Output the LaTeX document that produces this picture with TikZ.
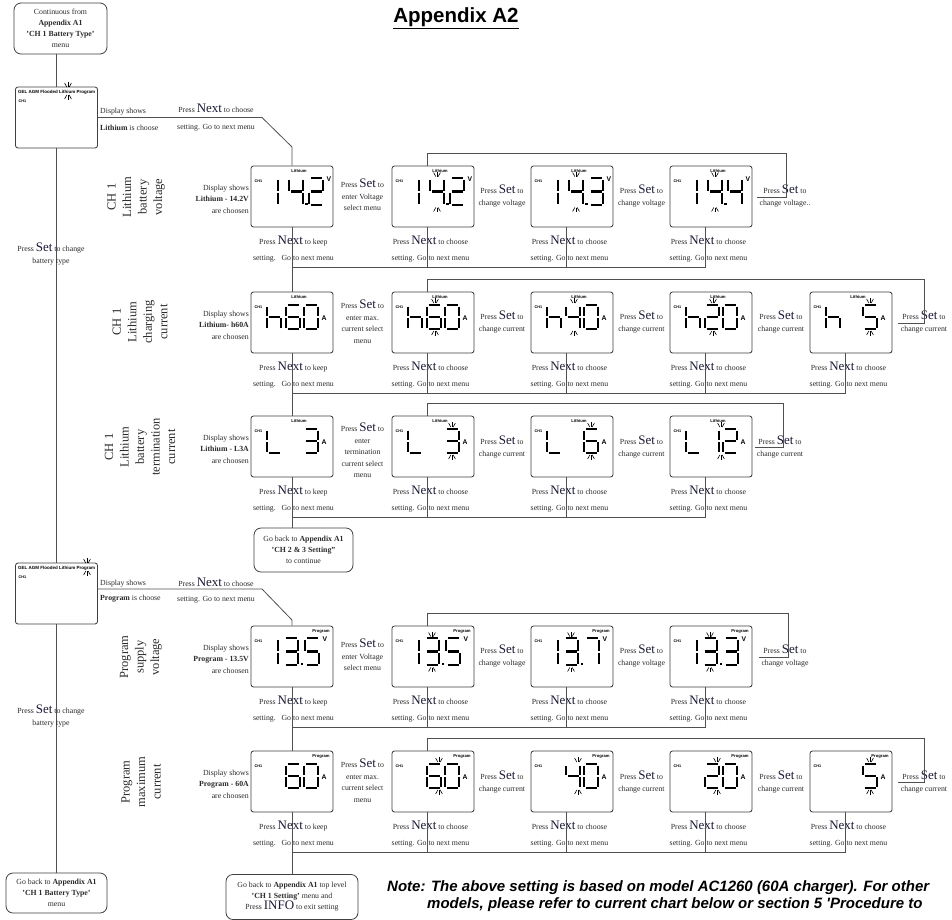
\documentclass[tikz,border=0pt]{standalone}
\usepackage{fontspec}
\setmainfont{Liberation Serif}
\newfontfamily\sansf{Liberation Sans}
\usetikzlibrary{calc}
\definecolor{lnc}{HTML}{505050}
\definecolor{boxc}{HTML}{404040}
\definecolor{txtc}{HTML}{2b2b2b}
\definecolor{kwc}{HTML}{1c1c38}
\newcommand\kw[1]{{\fontsize{13}{11.5}\selectfont\color{kwc}#1}}
\makeatletter
\newcommand\lcddig[5]{%
  \in@{a}{#5}\ifin@\draw[seg] ({#1+1.5},{#2}) -- ({#1+#3-1.5},{#2});\fi
  \in@{b}{#5}\ifin@\draw[seg] ({#1+#3},{#2+1.5}) -- ({#1+#3},{#2+#4/2-1});\fi
  \in@{c}{#5}\ifin@\draw[seg] ({#1+#3},{#2+#4/2+1}) -- ({#1+#3},{#2+#4-1.5});\fi
  \in@{d}{#5}\ifin@\draw[seg] ({#1+1.5},{#2+#4}) -- ({#1+#3-1.5},{#2+#4});\fi
  \in@{e}{#5}\ifin@\draw[seg] ({#1},{#2+#4/2+1}) -- ({#1},{#2+#4-1.5});\fi
  \in@{f}{#5}\ifin@\draw[seg] ({#1},{#2+1.5}) -- ({#1},{#2+#4/2-1});\fi
  \in@{g}{#5}\ifin@\draw[seg] ({#1+1.5},{#2+#4/2}) -- ({#1+#3-1.5},{#2+#4/2});\fi
}
\makeatother
\newcommand\blinkup[2]{%
  \draw[blk] ({#1-3.4},{#2-4}) -- ({#1-1.2},{#2});
  \draw[blk] ({#1},{#2-4.8}) -- ({#1},{#2});
  \draw[blk] ({#1+3.4},{#2-4}) -- ({#1+1.2},{#2});}
\newcommand\blinkdn[2]{%
  \draw[blk] ({#1-1.2},{#2}) -- ({#1-3.4},{#2+4});
  \draw[blk] ({#1},{#2}) -- ({#1},{#2+4.8});
  \draw[blk] ({#1+1.2},{#2}) -- ({#1+3.4},{#2+4});}
% voltage display: name, L, T, type (0 Lithium / 1 Program), last digit, blink
\newcommand\lcdV[6]{%
  \node[lcd] (#1) at ({#2+41},{#3+30.5}) {};
  \node[chl] (#1-ch) at ({#2+3.5},{#3+15}) {CH1};
  \ifnum#4=0
    \node[topl] (#1-lab) at ({#2+48},{#3+5}) {Lithium};
    \lcddig{#2+13}{#3+12}{14}{27}{bc}%
    \lcddig{#2+38}{#3+12}{14}{27}{fgbc}%
    \fill[black] ({#2+54},{#3+36.8}) rectangle ++(2.6,2.6);
    \lcddig{#2+58}{#3+12}{14}{27}{#5}%
    \node[unitl] (#1-u) at ({#2+78},{#3+13}) {V};
    \ifnum#6=1 \blinkup{#2+45}{#3+10.5}\blinkdn{#2+45}{#3+41.5}\fi
  \else
    \node[topl] (#1-lab) at ({#2+70},{#3+5}) {Program};
    \lcddig{#2+13}{#3+12}{14}{27}{bc}%
    \lcddig{#2+33}{#3+12}{14}{27}{abgcd}%
    \fill[black] ({#2+49.5},{#3+36.8}) rectangle ++(2.6,2.6);
    \lcddig{#2+54}{#3+12}{14}{27}{#5}%
    \node[unitl] (#1-u) at ({#2+74},{#3+13}) {V};
    \ifnum#6=1 \blinkup{#2+40}{#3+10.5}\blinkdn{#2+40}{#3+41.5}\fi
  \fi}
% current display: name, L, T, type, d1, d2, d3, blink x offset (0 = none)
\newcommand\lcdI[8]{%
  \node[lcd] (#1) at ({#2+41},{#3+30.5}) {};
  \node[chl] (#1-ch) at ({#2+3.5},{#3+15}) {CH1};
  \ifnum#4=0 \node[topl] (#1-lab) at ({#2+48},{#3+5}) {Lithium};%
  \else \node[topl] (#1-lab) at ({#2+70},{#3+5}) {Program};\fi
  \lcddig{#2+16}{#3+13}{14}{24}{#5}%
  \lcddig{#2+35}{#3+13}{14}{24}{#6}%
  \lcddig{#2+53}{#3+13}{14}{24}{#7}%
  \node[unitl] (#1-u) at ({#2+73},{#3+26}) {A};
  \ifnum#8>0 \blinkup{#2+#8}{#3+11}\blinkdn{#2+#8}{#3+39}\fi}
\newcommand\seldisp[3]{% name, T, blink x
  \node[lcd] (#1) at (56.5,{#2+30.5}) {};
  \node[gel] (#1-t) at (18,{#2+5}) {GEL AGM Flooded Lithium Program};
  \node[chl] (#1-ch) at (18.5,{#2+14}) {CH1};
  \blinkup{#3}{#2}\blinkdn{#3}{#2+8}}
\newcommand\desc[3]{\node[sm, anchor=east, align=right] (#1) at (249,#2) {Display shows\\\textbf{#3}\\are choosen};}
\newcommand\settxt[4]{\node[sm] (#1) at (#2,#3) {Press \kw{Set} to\\#4};}
\newcommand\nexttxt[5]{\node[sm] (#1) at (#2,#3) {Press \kw{Next} to #4\\[4.5pt]#5};}

\begin{document}
\begin{tikzpicture}[x=1pt,y=-1pt,
  ln/.style={draw=lnc, line width=0.8pt},
  lcd/.style={draw=boxc, line width=0.85pt, rounded corners=2.5pt, minimum width=82pt, minimum height=61pt, inner sep=0pt},
  rbox/.style={draw=boxc, line width=0.8pt, rounded corners=7pt, inner sep=0pt, font=\fontsize{7.8}{11}\selectfont, text=txtc, align=center},
  seg/.style={line width=2.6pt, black},
  blk/.style={line width=0.6pt, black},
  chl/.style={anchor=west, inner sep=0pt, font=\sansf\bfseries\fontsize{3.8}{4}\selectfont},
  topl/.style={inner sep=0pt, font=\sansf\bfseries\fontsize{4.2}{4.5}\selectfont},
  unitl/.style={inner sep=0pt, font=\sansf\bfseries\fontsize{6.8}{7}\selectfont},
  gel/.style={anchor=west, inner sep=0pt, font=\sansf\bfseries\fontsize{4.5}{5}\selectfont},
  sm/.style={inner sep=0pt, align=center, text=txtc, font=\fontsize{7.8}{11.5}\selectfont},
  rowlab/.style={inner sep=0pt, align=center, rotate=90, text=txtc, font=\fontsize{12.5}{15.5}\selectfont},
]
\fill[white] (0,0) rectangle (952,919);
\useasboundingbox (0,0) rectangle (952,919);

% title
\node[inner sep=0pt, font=\sansf\bfseries\fontsize{20.5}{22}\selectfont] (title) at (456,18) {\underline{Appendix A2}};

% left column
\node[rbox, minimum width=93pt, minimum height=51pt] (cont) at (60.5,28.5) {Continuous from\\\textbf{Appendix A1}\\\textbf{'CH 1 Battery Type'}\\menu};
\seldisp{sel1}{87}{68}
\seldisp{sel2}{563}{87}
\node[rbox, minimum width=101pt, minimum height=40pt] (gb0) at (56.5,893) {Go back to \textbf{Appendix A1}\\\textbf{'CH 1 Battery Type'}\\menu};
\draw[ln] (sel1.north |- cont.south) -- (sel1.north);
\draw[ln] (sel1.south) -- (sel2.north);
\draw[ln] (sel2.south) -- (gb0.north);
\node[sm] (bt1) at (51,254) {Press \kw{Set} to change\\battery type};
\node[sm] (bt2) at (51,716) {Press \kw{Set} to change\\battery type};

\node[sm, anchor=west, align=left] (sel1d) at (100,119) {Display shows\\[5.5pt]\textbf{Lithium} is choose};
\node[sm] (sel1n) at (216,118) {Press \kw{Next} to choose\\[5.5pt]setting. Go to next menu};
\node[sm, anchor=west, align=left] (sel2d) at (100,591) {Display shows\\[3.5pt]\textbf{Program} is choose};
\node[sm] (sel2n) at (216,591) {Press \kw{Next} to choose\\[3.5pt]setting. Go to next menu};

% ================= Row 1 : Lithium voltage (T=166)
\lcdV{r1a}{251}{166}{0}{abged}{0}
\lcdV{r1b}{392}{166}{0}{abged}{1}
\lcdV{r1c}{531}{166}{0}{abgcd}{1}
\lcdV{r1d}{670}{166}{0}{fgbc}{1}
\node[rowlab] (lab1) at (136,197) {CH 1\\Lithium\\battery\\voltage};
\desc{d1}{199}{Lithium - 14.2V}
\node[sm] (s1a) at (362.5,195) {Press \kw{Set} to\\enter Voltage\\select menu};
\settxt{s1b}{502}{196}{change voltage}
\settxt{s1c}{641.5}{196}{change voltage}
\settxt{s1d}{785}{196}{change voltage..}
\nexttxt{n1a}{293.4}{249.5}{keep}{setting.\ \ \ Go to next menu}
\nexttxt{n1b}{430.5}{249.5}{choose}{setting. Go to next menu}
\nexttxt{n1c}{569.5}{249.5}{choose}{setting. Go to next menu}
\nexttxt{n1d}{708.5}{249.5}{choose}{setting. Go to next menu}

% ================= Row 2 : Lithium charging current (T=292)
\lcdI{r2a}{251}{292}{0}{cefg}{acdefg}{abcdef}{0}
\lcdI{r2b}{392}{292}{0}{cefg}{acdefg}{abcdef}{43}
\lcdI{r2c}{531}{292}{0}{cefg}{bcfg}{abcdef}{43}
\lcdI{r2d}{670}{292}{0}{cefg}{abdeg}{abcdef}{43}
\lcdI{r2e}{810}{292}{0}{cefg}{}{acdfg}{60}
\node[rowlab] (lab2) at (140,322) {CH 1\\Lithium\\charging\\current};
\desc{d2}{325}{Lithium- h60A}
\node[sm] (s2a) at (362.5,321.5) {Press \kw{Set} to\\enter max.\\current select\\menu};
\settxt{s2b}{502}{322}{change current}
\settxt{s2c}{641.5}{322}{change current}
\settxt{s2d}{781}{322}{change current}
\settxt{s2e}{924}{322}{change current}
\nexttxt{n2a}{293.4}{375.5}{keep}{setting.\ \ \ Go to next menu}
\nexttxt{n2b}{430.5}{375.5}{choose}{setting. Go to next menu}
\nexttxt{n2c}{569.5}{375.5}{choose}{setting. Go to next menu}
\nexttxt{n2d}{708.5}{375.5}{choose}{setting. Go to next menu}
\nexttxt{n2e}{848.5}{375.5}{choose}{setting. Go to next menu}

% ================= Row 3 : Lithium termination current (T=416)
\lcdI{r3a}{251}{416}{0}{def}{}{abcdg}{0}
\lcdI{r3b}{392}{416}{0}{def}{}{abcdg}{60}
\lcdI{r3c}{531}{416}{0}{def}{}{acdefg}{60}
\lcdI{r3d}{670}{416}{0}{def}{bc}{abdeg}{51}
\node[rowlab] (lab3) at (140,447) {CH 1\\Lithium\\battery\\termination\\current};
\desc{d3}{449}{Lithium - L3A}
\node[sm] (s3a) at (362.5,450.5) {Press \kw{Set} to\\enter\\termination\\current select\\menu};
\settxt{s3b}{502}{447}{change current}
\settxt{s3c}{641.5}{447}{change current}
\settxt{s3d}{780}{447}{change current}
\nexttxt{n3a}{293.4}{499.5}{keep}{setting.\ \ \ Go to next menu}
\nexttxt{n3b}{430.5}{499.5}{choose}{setting. Go to next menu}
\nexttxt{n3c}{569.5}{499.5}{choose}{setting. Go to next menu}
\nexttxt{n3d}{708.5}{499.5}{choose}{setting. Go to next menu}
\node[rbox, minimum width=99pt, minimum height=44pt] (gb1) at (303.5,550) {Go back to \textbf{Appendix A1}\\\textbf{'CH 2 \& 3 Setting"}\\to continue};

% ================= Row 4 : Program supply voltage (T=626)
\lcdV{r4a}{251}{626}{1}{acdfg}{0}
\lcdV{r4b}{392}{626}{1}{acdfg}{1}
\lcdV{r4c}{531}{626}{1}{abc}{1}
\lcdV{r4d}{670}{626}{1}{abcdg}{1}
\node[rowlab] (lab4) at (141,657) {Program\\supply\\voltage};
\desc{d4}{659}{Program - 13.5V}
\node[sm] (s4a) at (362.5,655) {Press \kw{Set} to\\enter Voltage\\select menu};
\settxt{s4b}{502}{656}{change voltage}
\settxt{s4c}{641.5}{656}{change voltage}
\settxt{s4d}{785}{656}{change voltage}
\nexttxt{n4a}{293.4}{709.5}{keep}{setting.\ \ \ Go to next menu}
\nexttxt{n4b}{430.5}{709.5}{choose}{setting. Go to next menu}
\nexttxt{n4c}{569.5}{709.5}{choose}{setting. Go to next menu}
\nexttxt{n4d}{708.5}{709.5}{choose}{setting. Go to next menu}

% ================= Row 5 : Program maximum current (T=751)
\lcdI{r5a}{251}{751}{1}{}{acdefg}{abcdef}{0}
\lcdI{r5b}{392}{751}{1}{}{acdefg}{abcdef}{47}
\lcdI{r5c}{531}{751}{1}{}{bcfg}{abcdef}{47}
\lcdI{r5d}{670}{751}{1}{}{abdeg}{abcdef}{47}
\lcdI{r5e}{810}{751}{1}{}{}{acdfg}{60}
\node[rowlab] (lab5) at (141,782) {Program\\maximum\\current};
\desc{d5}{784}{Program - 60A}
\node[sm] (s5a) at (362.5,780.5) {Press \kw{Set} to\\enter max.\\current select\\menu};
\settxt{s5b}{502}{782}{change current}
\settxt{s5c}{641.5}{782}{change current}
\settxt{s5d}{781}{782}{change current}
\settxt{s5e}{924}{782}{change current}
\nexttxt{n5a}{293.4}{834.5}{keep}{setting.\ \ \ Go to next menu}
\nexttxt{n5b}{430.5}{834.5}{choose}{setting. Go to next menu}
\nexttxt{n5c}{569.5}{834.5}{choose}{setting. Go to next menu}
\nexttxt{n5d}{708.5}{834.5}{choose}{setting. Go to next menu}
\nexttxt{n5e}{848.5}{834.5}{choose}{setting. Go to next menu}
\node[rbox, minimum width=132pt, minimum height=45pt] (gb2) at (292,897) {Go back to \textbf{Appendix A1} top level\\\textbf{'CH 1 Setting'} menu and\\Press \kw{INFO} to exit setting};

% ================= connectors
\coordinate (j1) at (262,117.5); \coordinate (j2) at (292,147);
\draw[ln] (sel1.east) -- (j1) -- (j2) -- (r1a.north);
\coordinate (j3) at (262,589); \coordinate (j4) at (292,620);
\draw[ln] ([yshift=4.5pt]sel2.east) -- (j3) -- (j4) -- (r4a.north);
\draw[ln] (r1a.south) -- (r2a.north);
\draw[ln] (r2a.south) -- (r3a.north);
\draw[ln] (r3a.south) -- (r3a.south |- gb1.north);
\draw[ln] (r4a.south) -- (r5a.north);
\draw[ln] (r5a.south) -- (gb2.north);

% bottom rails
\coordinate (h1) at (292,267);
\draw[ln] (h1) -| ([xshift=-6pt]r1d.south);
\foreach \b in {r1b,r1c} \draw[ln] ([xshift=-6pt]\b.south) -- ([xshift=-6pt]\b.south |- h1);
\coordinate (h2) at (292,393);
\draw[ln] (h2) -| ([xshift=-6pt]r2e.south);
\foreach \b in {r2b,r2c,r2d} \draw[ln] ([xshift=-6pt]\b.south) -- ([xshift=-6pt]\b.south |- h2);
\coordinate (h3) at (292,517);
\draw[ln] (h3) -| ([xshift=-6pt]r3d.south);
\foreach \b in {r3b,r3c} \draw[ln] ([xshift=-6pt]\b.south) -- ([xshift=-6pt]\b.south |- h3);
\coordinate (h4) at (292,727);
\draw[ln] (h4) -| ([xshift=-6pt]r4d.south);
\foreach \b in {r4b,r4c} \draw[ln] ([xshift=-6pt]\b.south) -- ([xshift=-6pt]\b.south |- h4);
\coordinate (h5) at (292,852);
\draw[ln] (h5) -| ([xshift=-6pt]r5e.south);
\foreach \b in {r5b,r5c,r5d} \draw[ln] ([xshift=-6pt]\b.south) -- ([xshift=-6pt]\b.south |- h5);

% top loops
\coordinate (u1) at (757,197); \coordinate (q1) at (786,153);
\draw[ln] (u1) -| (q1) -| ([xshift=-6pt]r1b.north);
\coordinate (u2) at (898,323); \coordinate (q2) at (924,279);
\draw[ln] (u2) -| (q2) -| ([xshift=-6pt]r2b.north);
\coordinate (u3) at (755,447); \coordinate (q3) at (783,403);
\draw[ln] (u3) -| (q3) -| ([xshift=-6pt]r3b.north);
\coordinate (u4) at (759,657); \coordinate (q4) at (788,613);
\draw[ln] (u4) -| (q4) -| ([xshift=-6pt]r4b.north);
\coordinate (u5) at (898,782); \coordinate (q5) at (924,738);
\draw[ln] (u5) -| (q5) -| ([xshift=-6pt]r5b.north);

% note
\node[anchor=west, inner sep=0pt, text=black, font=\sansf\bfseries\itshape\fontsize{15}{17}\selectfont] (note1) at (387,888) {Note: The above setting is based on model AC1260 (60A charger). For other};
\node[anchor=west, inner sep=0pt, text=black, font=\sansf\bfseries\itshape\fontsize{15}{17}\selectfont] (note2) at (427,905) {models, please refer to current chart below or section 5 'Procedure to};
\end{tikzpicture}
\end{document}
